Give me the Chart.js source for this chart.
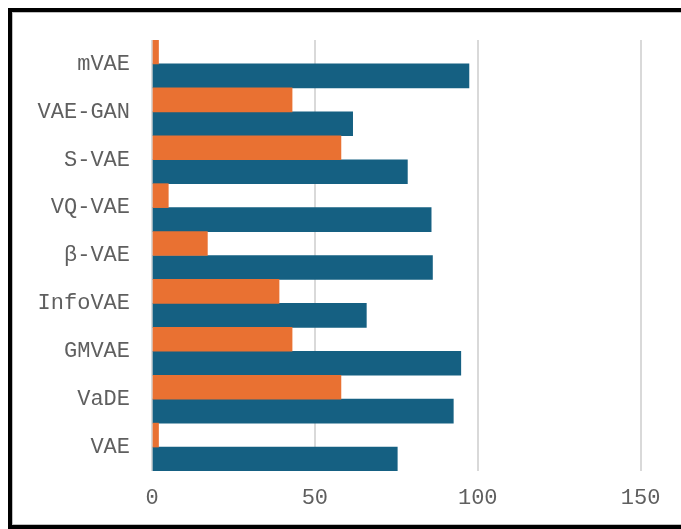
<!DOCTYPE html>
<html>
<head>
<meta charset="utf-8">
<script src="https://cdn.jsdelivr.net/npm/chart.js@4/dist/chart.umd.min.js"></script>
<style>
  html, body { margin: 0; padding: 0; background: #fff; overflow: hidden; width: 681px; height: 529px; }
  #frame { position: absolute; left: 8px; top: 8px; width: 720px; height: 513px; border: 4px solid #000; box-shadow: inset 0 0 0 1px #bfbfbf; }
  #wrap { position: absolute; left: 12px; top: 12px; width: 669px; height: 513px; }
</style>
</head>
<body>
<div id="frame"></div>
<div id="wrap"><canvas id="c"></canvas></div>
<script>
const categories = ["mVAE", "VAE-GAN", "S-VAE", "VQ-VAE", "β-VAE", "InfoVAE", "GMVAE", "VaDE", "VAE"];
const orangeValues = [2, 43, 58, 5, 17, 39, 43, 58, 2];
const blueValues = [97.3, 61.6, 78.4, 85.7, 86.1, 65.8, 94.8, 92.5, 75.3];
const xTicks = [0, 50, 100, 150];

const FONT = '"Courier New", "Liberation Mono", monospace';

new Chart(document.getElementById('c'), {
  type: 'bar',
  data: {
    labels: categories,
    datasets: [
      { label: 'Series 1', data: orangeValues, backgroundColor: '#E97132', barPercentage: 1, categoryPercentage: 1 },
      { label: 'Series 2', data: blueValues, backgroundColor: '#156082', barPercentage: 1, categoryPercentage: 1 }
    ]
  },
  options: {
    indexAxis: 'y',
    responsive: true,
    maintainAspectRatio: false,
    animation: false,
    layout: { padding: { top: 28, right: 0, left: 0, bottom: 0 } },
    plugins: { legend: { display: false }, tooltip: { enabled: false } },
    scales: {
      x: {
        min: 0,
        max: 162.4,
        afterBuildTicks: (scale) => { scale.ticks = xTicks.map(v => ({ value: v })); },
        afterFit: (scale) => { scale.height = 54; scale.paddingLeft = 0; scale.paddingRight = 0; },
        grid: { color: '#d9d9d9', lineWidth: 2, drawTicks: false },
        border: { display: false },
        ticks: { color: '#5f5f5f', padding: 14, font: { family: FONT, size: 22 } }
      },
      y: {
        afterFit: (scale) => { scale.width = 140; scale.paddingTop = 0; scale.paddingBottom = 0; },
        grid: { display: false, drawTicks: false },
        border: { display: false },
        ticks: { color: '#5f5f5f', padding: 22, font: { family: FONT, size: 22 } }
      }
    }
  }
});
</script>
</body>
</html>
